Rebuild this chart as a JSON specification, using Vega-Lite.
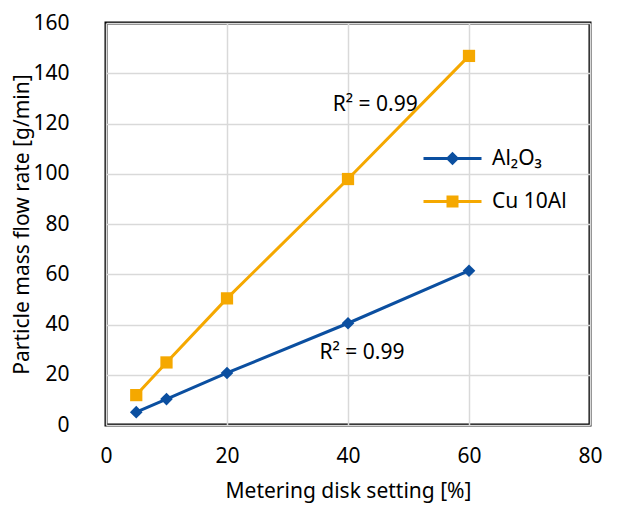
{
  "$schema": "https://vega.github.io/schema/vega-lite/v6.json",
  "autosize": "none",
  "width": 484,
  "height": 402,
  "padding": {"left": 106, "top": 23, "right": 43, "bottom": 82},
  "background": "white",
  "config": {
    "font": "Noto Sans",
    "view": {"stroke": "black", "strokeWidth": 3},
    "axis": {
      "domain": false,
      "ticks": false,
      "gridColor": "#d9d9d9",
      "gridWidth": 1.5,
      "labelFlush": false,
      "labelOverlap": false,
      "labelFont": "Noto Sans",
      "labelFontSize": 21,
      "labelColor": "black",
      "titleFont": "Noto Sans",
      "titleFontSize": 21,
      "titleFontWeight": "normal",
      "titleColor": "black"
    }
  },
  "data": {
    "values": [
      {"setting": 5, "rate": 5.1, "series": "Al₂O₃"},
      {"setting": 10, "rate": 10.3, "series": "Al₂O₃"},
      {"setting": 20, "rate": 20.7, "series": "Al₂O₃"},
      {"setting": 40, "rate": 40.5, "series": "Al₂O₃"},
      {"setting": 60, "rate": 61.4, "series": "Al₂O₃"},
      {"setting": 5, "rate": 11.9, "series": "Cu 10Al"},
      {"setting": 10, "rate": 24.9, "series": "Cu 10Al"},
      {"setting": 20, "rate": 50.4, "series": "Cu 10Al"},
      {"setting": 40, "rate": 97.9, "series": "Cu 10Al"},
      {"setting": 60, "rate": 146.9, "series": "Cu 10Al"}
    ]
  },
  "layer": [
    {
      "transform": [{"filter": "datum.series === 'Al₂O₃'"}],
      "mark": {"type": "line", "strokeWidth": 3, "color": "#0b4fa0"},
      "encoding": {
        "x": {
          "field": "setting", "type": "quantitative",
          "scale": {"domain": [0, 80], "nice": false},
          "axis": {"values": [0, 20, 40, 60, 80], "title": "Metering disk setting [%]", "labelPadding": 20, "titlePadding": 14}
        },
        "y": {
          "field": "rate", "type": "quantitative",
          "scale": {"domain": [0, 160], "nice": false},
          "axis": {"values": [0, 20, 40, 60, 80, 100, 120, 140, 160], "title": "Particle mass flow rate [g/min]", "labelPadding": 37, "titlePadding": 0}
        }
      }
    },
    {
      "transform": [{"filter": "datum.series === 'Cu 10Al'"}],
      "mark": {"type": "line", "strokeWidth": 3, "color": "#f5a800"},
      "encoding": {
        "x": {"field": "setting", "type": "quantitative"},
        "y": {"field": "rate", "type": "quantitative"}
      }
    },
    {
      "transform": [{"filter": "datum.series === 'Al₂O₃'"}],
      "mark": {"type": "point", "shape": "diamond", "filled": true, "opacity": 1, "size": 160, "color": "#0b4fa0"},
      "encoding": {
        "x": {"field": "setting", "type": "quantitative"},
        "y": {"field": "rate", "type": "quantitative"}
      }
    },
    {
      "transform": [{"filter": "datum.series === 'Cu 10Al'"}],
      "mark": {"type": "point", "shape": "square", "filled": true, "opacity": 1, "size": 150, "color": "#f5a800"},
      "encoding": {
        "x": {"field": "setting", "type": "quantitative"},
        "y": {"field": "rate", "type": "quantitative"}
      }
    },
    {
      "transform": [{"filter": "false"}],
      "mark": {"type": "point", "filled": true, "opacity": 1},
      "encoding": {
        "x": {"field": "setting", "type": "quantitative"},
        "y": {"field": "rate", "type": "quantitative"},
        "color": {
          "field": "series", "type": "nominal",
          "scale": {"domain": ["Al₂O₃", "Cu 10Al"], "range": ["#0b4fa0", "#f5a800"]},
          "legend": {
            "title": null,
            "orient": "none",
            "legendX": 336,
            "legendY": 125,
            "padding": 0,
            "rowPadding": 21,
            "symbolSize": 100,
            "labelFontSize": 21,
            "labelFont": "Noto Sans",
            "labelColor": "black",
            "labelOffset": 29
          }
        },
        "shape": {
          "field": "series", "type": "nominal",
          "scale": {
            "domain": ["Al₂O₃", "Cu 10Al"],
            "range": ["M-5.8,-0.3H5.8V0.3H-5.8ZM0,-1.35L1.35,0L0,1.35L-1.35,0Z", "M-5.8,-0.3H5.8V0.3H-5.8ZM-1.2,-1.2H1.2V1.2H-1.2Z"]
          },
          "legend": {
            "title": null,
            "orient": "none",
            "legendX": 336,
            "legendY": 125,
            "padding": 0,
            "rowPadding": 21,
            "symbolSize": 100,
            "labelFontSize": 21,
            "labelFont": "Noto Sans",
            "labelColor": "black",
            "labelOffset": 29
          }
        }
      }
    },
    {
      "data": {"values": [{}]},
      "mark": {"type": "text", "fontSize": 21, "font": "Noto Sans", "color": "black"},
      "encoding": {
        "x": {"datum": 44.5},
        "y": {"datum": 127.5},
        "text": {"value": "R² = 0.99"}
      }
    },
    {
      "data": {"values": [{}]},
      "mark": {"type": "text", "fontSize": 21, "font": "Noto Sans", "color": "black"},
      "encoding": {
        "x": {"datum": 42.3},
        "y": {"datum": 28.7},
        "text": {"value": "R² = 0.99"}
      }
    }
  ]
}
